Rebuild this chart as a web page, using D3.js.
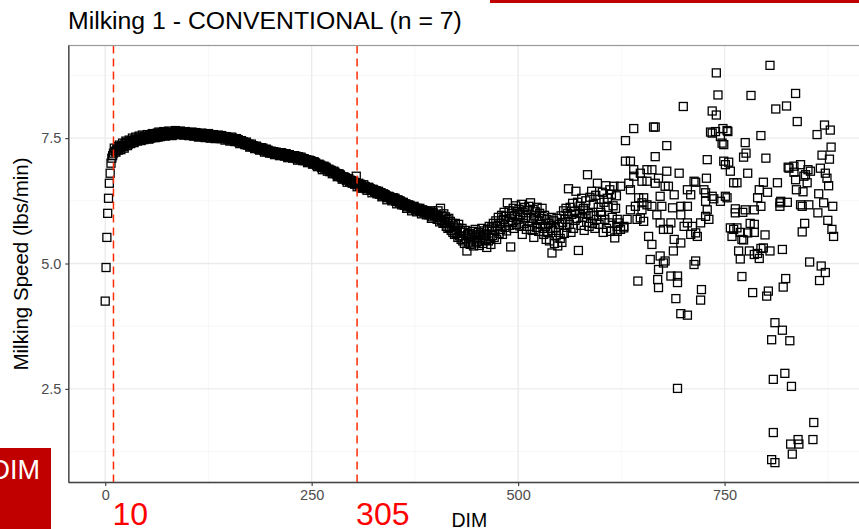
<!DOCTYPE html>
<html><head><meta charset="utf-8">
<script src="https://cdn.jsdelivr.net/npm/d3@7"></script>
<style>body{margin:0;background:#fff;overflow:hidden} svg{display:block;font-family:"Liberation Sans",Arial,sans-serif}</style>
</head><body><svg id="c" width="859" height="529"></svg>
<script>
// ---- data ----
const titleText = "Milking 1 - CONVENTIONAL (n = 7)";
const xTicks = [0, 250, 500, 750];
const yTicks = [2.5, 5.0, 7.5];
const markerDays = [10, 305];

const earlyDays = [0,1,2,3,4,5,6,7,8,9];
const earlySpeed = [4.25,4.92,5.52,6.00,6.30,6.60,6.80,7.00,7.10,7.15];

// even days, 10..400
const curveDays = d3.range(10, 401, 2);
const curveSpeed = [
7.20,7.24,7.28,7.26,7.31, 7.35,7.33,7.39,7.41,7.38, 7.43,7.45,7.42,7.47,7.46, 7.48,7.50,7.46,7.51,7.53,
7.52,7.49,7.55,7.53,7.51, 7.54,7.57,7.52,7.56,7.58, 7.55,7.59,7.61,7.56,7.57, 7.58,7.62,7.57,7.60,7.63,
7.60,7.58,7.62,7.59,7.57, 7.58,7.61,7.56,7.59,7.55, 7.57,7.54,7.58,7.56,7.53, 7.56,7.52,7.55,7.57,7.51,
7.53,7.55,7.50,7.52,7.54, 7.52,7.49,7.51,7.53,7.48, 7.49,7.47,7.50,7.45,7.46, 7.45,7.42,7.44,7.40,7.41,
7.40,7.36,7.38,7.34,7.33, 7.33,7.30,7.32,7.28,7.29, 7.28,7.25,7.27,7.23,7.24, 7.22,7.20,7.23,7.19,7.21,
7.19,7.17,7.20,7.16,7.18, 7.16,7.13,7.15,7.12,7.14, 7.12,7.09,7.13,7.08,7.10, 7.08,7.05,7.07,7.03,7.04,
7.03,6.99,7.01,6.96,6.97, 6.95,6.91,6.93,6.88,6.90, 6.87,6.83,6.85,6.80,6.82, 6.78,6.75,6.77,6.72,6.70,
6.70,6.66,6.68,6.63,6.65, 6.62,6.58,6.74,6.57,6.55, 6.56,6.52,6.54,6.49,6.51, 6.50,6.46,6.48,6.43,6.45,
6.42,6.38,6.41,6.35,6.37, 6.35,6.31,6.33,6.28,6.30, 6.28,6.24,6.27,6.21,6.23, 6.20,6.16,6.19,6.13,6.15,
6.13,6.09,6.14,6.07,6.10, 6.08,6.04,6.07,6.01,6.03, 6.02,5.97,6.05,5.93,5.99, 5.95];

// odd days, 11..399
const curveOddDays = d3.range(11, 400, 2);
const curveOddSpeed = [
7.30,7.22,7.33,7.36,7.27, 7.40,7.30,7.44,7.35,7.46, 7.39,7.50,7.41,7.52,7.44, 7.54,7.45,7.56,7.47,7.49,
7.57,7.48,7.50,7.59,7.55, 7.51,7.60,7.62,7.53,7.61, 7.63,7.54,7.58,7.64,7.60, 7.55,7.59,7.65,7.62,7.57,
7.64,7.62,7.56,7.63,7.61, 7.55,7.60,7.62,7.54,7.61, 7.60,7.52,7.55,7.60,7.57, 7.51,7.58,7.59,7.50,7.56,
7.57,7.49,7.55,7.56,7.49, 7.55,7.53,7.46,7.52,7.51, 7.44,7.52,7.47,7.43,7.49, 7.47,7.39,7.45,7.43,7.37,
7.42,7.37,7.32,7.38,7.35, 7.29,7.34,7.31,7.26,7.31, 7.30,7.22,7.28,7.26,7.20, 7.24,7.21,7.17,7.22,7.20,
7.15,7.21,7.18,7.14,7.19, 7.11,7.17,7.15,7.10,7.15, 7.14,7.06,7.11,7.12,7.05, 7.09,7.07,7.01,7.06,7.05,
6.98,7.03,7.00,6.93,6.98, 6.96,6.87,6.94,6.92,6.84, 6.88,6.86,6.79,6.84,6.80, 6.73,6.79,6.76,6.68,6.73,
6.71,6.62,6.69,6.66,6.60, 6.64,6.61,6.53,6.60,6.58, 6.50,6.57,6.53,6.46,6.52, 6.49,6.41,6.47,6.45,6.39,
6.44,6.41,6.33,6.39,6.37, 6.27,6.34,6.32,6.25,6.31, 6.30,6.19,6.26,6.25,6.17, 6.22,6.18,6.10,6.17,6.16,
6.05,6.12,6.11,6.03,6.09, 6.10,5.99,6.06,6.05,5.97, 6.04,6.00,5.90,6.02,5.96];

// daily, 401..620
const lateDays = d3.range(401, 621);
const lateSpeed = [
5.97,5.88,6.05,5.92,5.83,6.10,5.86,5.95,5.80,5.99, 5.82,5.93,5.74,5.88,5.70,5.90,5.72,5.84,5.66,5.80,
5.62,5.75,5.58,5.80,5.60,5.71,5.52,5.78,5.55,5.66, 5.48,5.70,5.45,5.62,5.40,5.66,5.50,5.25,5.58,5.43,
5.60,5.38,5.55,5.47,5.64,5.35,5.52,5.68,5.41,5.57, 5.44,5.62,5.36,5.58,5.49,5.70,5.40,5.55,5.65,5.46,
5.59,5.32,5.68,5.45,5.74,5.50,5.38,5.71,5.56,5.80, 5.52,5.66,5.85,5.48,5.74,5.92,5.60,5.80,5.68,5.96,
5.58,5.88,6.02,5.72,5.94,5.65,6.21,5.84,6.05,5.76, 5.33,6.00,5.82,6.10,5.70,5.96,6.15,5.78,6.04,5.88,
6.08,5.75,5.98,6.18,5.58,6.02,5.80,6.12,5.92,5.68, 6.06,5.85,6.14,5.74,6.21,5.90,5.66,6.08,5.52,5.95,
6.03,5.72,6.12,5.86,5.64,6.00,5.78,5.90,6.10,5.70, 5.58,5.96,5.74,5.48,5.88,5.62,5.80,5.45,5.70,5.92,
5.21,5.66,5.85,5.40,5.72,5.55,5.90,5.35,5.62,5.78, 5.50,5.95,5.42,5.82,6.05,5.60,5.88,6.10,5.72,6.00,
6.49,5.78,6.12,5.62,5.98,6.20,5.70,6.04,5.86,6.44, 5.90,6.22,5.26,6.00,6.14,5.76,6.30,5.92,6.10,5.66,
6.05,6.25,5.82,6.77,6.00,5.74,6.32,5.95,6.44,5.80, 6.18,5.96,5.70,6.36,5.88,6.60,6.12,5.78,6.28,6.02,
5.97,6.42,5.62,6.22,5.88,6.55,5.70,6.30,6.12,5.81, 6.47,5.64,6.38,5.92,6.15,6.54,5.51,6.10,6.35,5.74];

// scattered tail, DIM > 620
const tailDays = [
624,636,634,640,650,656,646,652,642,650,650,656,648,652,644,632,636,640,636,630,656,662,648,
622,624,628,620,628,620,
666,670,678,682,672,662,668,674,672,676,658,662,660,670,672,676,678,669,645,
666,680,695,689,697,687,705,709,713,715,697,705,685,682,689,697,688,701,705,709,715,717,711,721,727,729,731,725,727,728,729,735,737,745,751,753,727,
805,740,742,782,836,825,812,838,700,735,740,640,664,666,630,680,
733,739,748,753,754,735,745,749,747,794,775,862,871,878,879,868,877,866,872,874,876,864,870,881,863,875,880,882,847,844,853,867,872,865,
820,824,821,771,784,803,801,
794,797,790,786,792,780,767,769,805,
799,765,761,759,773,781,786,786,778,769,
763,763,772,775,786,794,790,792,797,802,814,778,800,773,776,
761,765,817,818,826,817,842,852,844,845,837,850,846,834,836,834,827,828,842,848,854,851,
749,755,751,757,757,771,
685,693,693,670,691,697,705,715,713,722,721,693,
811,820,807,829,823,809,831,858,809,839,840,830,857,832,807,811];
const tailSpeed = [
6.54,6.47,6.60,6.74,6.64,6.64,6.31,6.31,6.14,6.21,6.07,6.17,5.91,5.84,5.88,5.88,6.07,6.87,7.04,7.04,6.87,6.87,6.80,
5.81,5.68,5.74,5.64,5.71,5.88,
6.60,6.70,6.54,6.54,6.34,6.14,5.97,6.14,5.81,5.68,5.54,5.38,5.08,4.88,5.15,5.01,5.05,4.68,4.65,
7.13,6.84,6.80,6.37,5.97,6.11,6.47,6.37,6.64,6.62,6.14,6.14,5.81,5.68,5.48,5.41,5.25,5.74,5.81,5.58,5.61,5.54,5.74,5.81,5.94,6.07,5.88,6.47,6.41,6.70,7.07,6.34,6.29,6.24,6.34,6.31,6.24,
8.95,8.80,8.36,8.35,8.39,8.14,8.08,7.83,8.13,8.04,7.96,7.69,7.72,7.72,7.45,7.35,
7.62,7.63,7.69,7.65,7.63,7.60,7.53,7.37,7.40,7.55,7.41,7.57,7.76,7.66,7.32,7.16,7.08,6.90,6.80,6.70,6.55,6.39,6.21,6.14,6.01,5.86,5.68,5.54,5.80,5.63,5.03,4.95,4.82,4.66,
5.28,4.70,4.53,4.74,4.42,4.45,4.35,
5.30,5.31,5.20,5.18,5.10,5.25,5.25,5.09,5.25,
5.57,5.71,5.68,5.54,5.47,5.80,5.78,5.62,5.61,5.62,
6.01,6.09,6.02,6.07,6.07,6.14,6.31,6.47,6.62,6.42,6.61,6.80,7.10,7.12,7.20,
6.61,6.61,6.21,6.24,6.22,6.14,6.17,6.17,6.14,6.43,6.47,6.61,6.74,6.82,6.67,6.94,6.92,6.90,6.97,6.77,6.84,6.87,
7.04,7.02,6.97,6.84,5.71,5.48,
4.75,4.75,4.62,4.52,4.30,4.00,3.97,5.05,4.98,4.48,4.27,2.51,
3.82,3.67,3.48,3.46,2.81,2.69,2.55,1.83,1.63,1.49,1.40,1.40,1.49,1.20,1.09,1.03];

// ---- build points ----
const pts = [];
[[earlyDays, earlySpeed],[curveDays, curveSpeed],[curveOddDays, curveOddSpeed],[lateDays, lateSpeed],[tailDays, tailSpeed]]
  .forEach(([xs, ys]) => xs.forEach((d, i) => { if (ys[i] != null) pts.push({dim: d, speed: ys[i]}); }));

// ---- layout ----
const svg = d3.select("#c");
const W = 859, H = 529;
const panel = {left: 68.8, top: 45.5, right: 870, bottom: 482.5};

const xExt = d3.extent(pts, d => d.dim), yExt = d3.extent(pts, d => d.speed);
const xPad = (xExt[1]-xExt[0])*0.05, yPad = (yExt[1]-yExt[0])*0.05;
const x = d3.scaleLinear().domain([xExt[0]-xPad, xExt[1]+xPad]).range([panel.left, panel.right]);
const y = d3.scaleLinear().domain([yExt[0]-yPad, yExt[1]+yPad]).range([panel.bottom, panel.top]);

svg.append("rect").attr("width", W).attr("height", H).attr("fill", "#fff");

svg.append("defs").append("clipPath").attr("id", "clip").append("rect")
  .attr("x", panel.left).attr("y", panel.top)
  .attr("width", panel.right - panel.left).attr("height", panel.bottom - panel.top);

const g = svg.append("g").attr("clip-path", "url(#clip)");

// minor grid
const xMinor = xTicks.map(t => t + 125);
const yMinor = [1.25, 3.75, 6.25, 8.75];
g.selectAll(".xmin").data(xMinor).join("line")
  .attr("x1", d => x(d)).attr("x2", d => x(d)).attr("y1", panel.top).attr("y2", panel.bottom)
  .attr("stroke", "#f3f3f3").attr("stroke-width", 0.7);
g.selectAll(".ymin").data(yMinor).join("line")
  .attr("y1", d => y(d)).attr("y2", d => y(d)).attr("x1", panel.left).attr("x2", panel.right)
  .attr("stroke", "#f3f3f3").attr("stroke-width", 0.7);
// major grid
g.selectAll(".xmaj").data(xTicks).join("line")
  .attr("x1", d => x(d)).attr("x2", d => x(d)).attr("y1", panel.top).attr("y2", panel.bottom)
  .attr("stroke", "#ebebeb").attr("stroke-width", 1.3);
g.selectAll(".ymaj").data(yTicks).join("line")
  .attr("y1", d => y(d)).attr("y2", d => y(d)).attr("x1", panel.left).attr("x2", panel.right)
  .attr("stroke", "#ebebeb").attr("stroke-width", 1.3);

// points (open squares)
const s = 8;
g.selectAll(".pt").data(pts).join("rect")
  .attr("x", d => x(d.dim) - s/2).attr("y", d => y(d.speed) - s/2)
  .attr("width", s).attr("height", s)
  .attr("fill", "none").attr("stroke", "#000").attr("stroke-width", 1.3);

// dashed marker lines
g.selectAll(".vl").data(markerDays).join("line")
  .attr("x1", d => x(d)).attr("x2", d => x(d)).attr("y1", panel.top).attr("y2", panel.bottom)
  .attr("stroke", "#ff2a00").attr("stroke-width", 1.5).attr("stroke-dasharray", "8,5");

// panel border
svg.append("rect").attr("x", panel.left).attr("y", panel.top)
  .attr("width", panel.right - panel.left).attr("height", panel.bottom - panel.top)
  .attr("fill", "none").attr("stroke", "#999").attr("stroke-width", 1.2);

// axes
const xAxis = d3.axisBottom(x).tickValues(xTicks).tickSize(3.5).tickPadding(4).tickFormat(d3.format("d"));
const yAxis = d3.axisLeft(y).tickValues(yTicks).tickSize(3.5).tickPadding(4).tickFormat(d3.format(".1f"));
const gx = svg.append("g").attr("transform", `translate(0,${panel.bottom})`).call(xAxis);
const gy = svg.append("g").attr("transform", `translate(${panel.left},0)`).call(yAxis);
[gx, gy].forEach(a => {
  a.select(".domain").remove();
  a.selectAll(".tick line").attr("stroke", "#444").attr("stroke-width", 1.2);
  a.selectAll(".tick text").attr("fill", "#4d4d4d").style("font-size", "14.5px").style("font-family", "Liberation Sans, Arial, sans-serif");
});
svg.append("line").attr("x1", panel.left).attr("x2", panel.left).attr("y1", panel.top).attr("y2", panel.bottom)
  .attr("stroke", "#444").attr("stroke-width", 1.3);
svg.append("line").attr("x1", panel.left).attr("x2", panel.right).attr("y1", panel.bottom).attr("y2", panel.bottom)
  .attr("stroke", "#444").attr("stroke-width", 1.3);

// titles
svg.append("text").attr("x", 68).attr("y", 29).text(titleText)
  .style("font-size", "24.8px").attr("fill", "#000");
svg.append("text").attr("x", (panel.left + panel.right)/2).attr("y", 527).attr("text-anchor", "middle")
  .text("DIM").style("font-size", "19.5px").attr("fill", "#000");
svg.append("text").attr("transform", `translate(28,${(panel.top+panel.bottom)/2}) rotate(-90)`)
  .attr("text-anchor", "middle").text("Milking Speed (lbs/min)").style("font-size", "20.5px").attr("fill", "#000");

// red marker labels
svg.selectAll(".ml").data(markerDays).join("text")
  .attr("x", d => x(d) - 1).attr("y", 525).text(d => d)
  .style("font-size", "32px").attr("fill", "#ff0000");

// slide overlays
svg.append("rect").attr("x", 490).attr("y", 0).attr("width", W - 490).attr("height", 3).attr("fill", "#c00000");
svg.append("rect").attr("x", 0).attr("y", 448).attr("width", 51).attr("height", H - 448).attr("fill", "#c00000");
svg.append("text").attr("x", 40).attr("y", 479).attr("text-anchor", "end").text("DIM")
  .style("font-size", "27px").attr("fill", "#fff");
</script></body></html>
